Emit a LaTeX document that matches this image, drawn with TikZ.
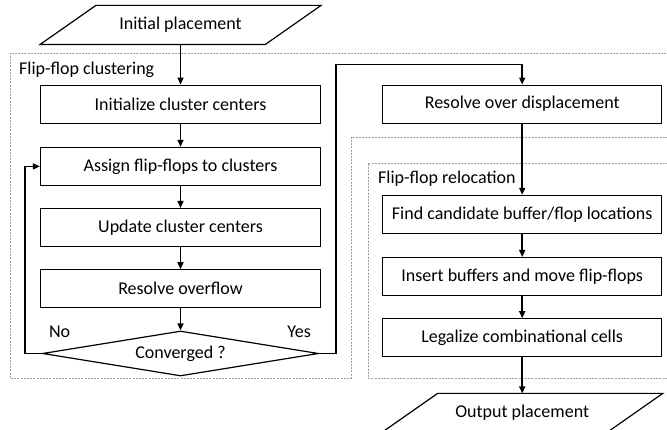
\documentclass[tikz,border=0pt]{standalone}
\usepackage{fontspec}
\setmainfont{Carlito}
\usetikzlibrary{positioning, arrows.meta, shapes.geometric, calc}

\begin{document}
\begin{tikzpicture}[
        x=1pt, y=1pt,
        node distance=22pt and 60pt,
        >={Triangle[length=7pt, width=6pt]},
        block/.style={rectangle, draw, line width=1.2pt, minimum height=38pt, minimum width=280pt, inner sep=2pt, align=center, font=\fontsize{18}{21}\selectfont},
        io/.style={block, draw=none, minimum width=224pt},
        outline/.style={draw, line width=1.2pt},
        decision/.style={block, diamond, aspect=6, minimum width=276pt, minimum height=45pt, inner sep=0pt},
        arrow/.style={->, line width=1.5pt},
        group/.style={draw=gray!75, line width=0.8pt, dash pattern=on 2pt off 1.2pt},
        tag/.style={font=\fontsize{18}{21}\selectfont, inner sep=0pt},
    ]
    \useasboundingbox (0,0) rectangle (667,430);

    % === GROUP OUTLINES ===
    \draw[group] (668,293) -- (351,293) -- (351,52) -- (10,52) -- (10,377) -- (668,377);
    \draw[group] (668,267) -- (368,267) -- (368,52) -- (668,52);
    \node[tag, anchor=west] (clustlabel) at (19,360) {Flip-flop clustering};
    \node[tag, anchor=west] (reloclabel) at (378,251) {Flip-flop relocation};

    % === CLUSTERING (left column) ===
    \node[io] (init) at (180.5,405) {Initial placement};
    \node[block, below=40pt of init] (initc) {Initialize cluster centers};
    \node[block, below=23pt of initc] (assign) {Assign flip-flops to clusters};
    \node[block, below=of assign] (update) {Update cluster centers};
    \node[block, below=of update] (overflow) {Resolve overflow};
    \node[decision, below=of overflow] (conv) {Converged ?};

    \node[tag, above right=16pt and 7pt of conv.west] (no) {No};
    \node[tag, above left=16pt and 8pt of conv.east] (yes) {Yes};

    % === RELOCATION (right column) ===
    \node[block, right=61pt of initc, minimum width=279pt] (rod) {Resolve over displacement};
    \node[block, below=71pt of rod, minimum width=279pt] (find) {Find candidate buffer/flop locations};
    \node[block, below=23pt of find, minimum width=279pt] (insert) {Insert buffers and move flip-flops};
    \node[block, below=of insert, minimum width=279pt] (legal) {Legalize combinational cells};
    \node[io, below=36pt of legal] (outp) {Output placement};

    % parallelograms for input / output
    \draw[outline] ([xshift=-28pt]init.south west) -- ([xshift=28pt]init.north west)
        -- ([xshift=28pt]init.north east) -- ([xshift=-28pt]init.south east) -- cycle;
    \draw[outline] ([xshift=-28pt]outp.south west) -- ([xshift=28pt]outp.north west)
        -- ([xshift=28pt]outp.north east) -- ([xshift=-28pt]outp.south east) -- cycle;

    % === ARROWS ===
    \draw[arrow] (init) -- (initc);
    \draw[arrow] (initc) -- (assign);
    \draw[arrow] (assign) -- (update);
    \draw[arrow] (update) -- (overflow);
    \draw[arrow] (overflow) -- (conv);

    % loop back / exit
    \draw[arrow] (conv.west) -- ++(-17,0) |- (assign.west);
    \draw[arrow] (conv.east) -- ++(17,0) |- ($(rod.north)+(0,20)$) -- (rod.north);

    \draw[arrow] (rod) -- (find);
    \draw[arrow] (find) -- (insert);
    \draw[arrow] (insert) -- (legal);
    \draw[arrow] (legal) -- (outp);

\end{tikzpicture}
\end{document}
